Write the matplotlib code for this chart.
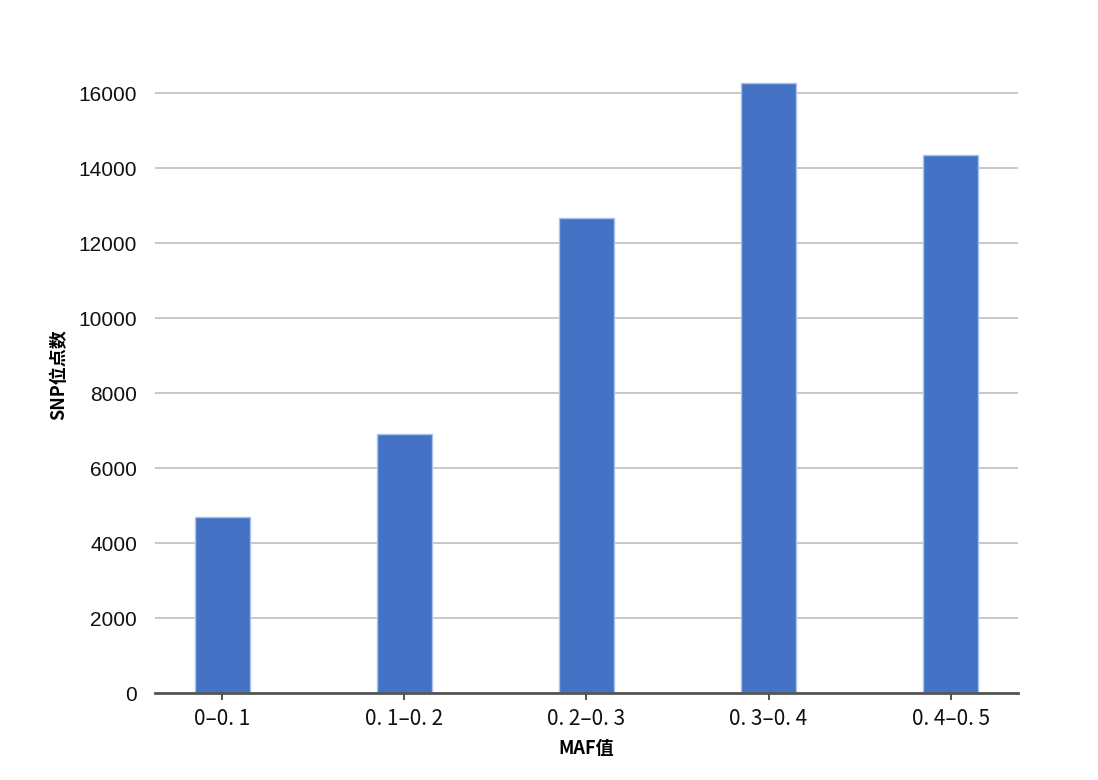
import matplotlib.pyplot as plt
import numpy as np

# data
categories = ['0-0.1', '0.1-0.2', '0.2-0.3', '0.3-0.4', '0.4-0.5']
snp_counts = [4700, 6910, 12670, 16280, 14350]
y_ticks = [0, 2000, 4000, 6000, 8000, 10000, 12000, 14000, 16000]

cjk = ['Noto Sans CJK SC', 'DejaVu Sans']
plt.rcParams['font.family'] = ['Liberation Sans', 'Noto Sans CJK SC', 'DejaVu Sans']

fig = plt.figure(figsize=(10.98, 7.8), dpi=100)
ax = fig.add_axes([0.1412, 0.1115, 0.7859, 0.8173])

x = np.arange(len(categories))
ax.bar(x, snp_counts, width=0.3, color='#4472C4', edgecolor='#A9C4EE',
       linewidth=1.0, zorder=3)

ax.set_xlim(-0.37, 4.37)
ax.set_ylim(0, 17000)
ax.set_yticks(y_ticks)
ax.set_yticklabels([str(v) for v in y_ticks], fontsize=15, color='#111111')
ax.set_xticks(x)
ax.set_xticklabels([c.replace('.', '. ').replace('-', '–') for c in categories],
                   fontsize=15, family=cjk, fontweight='medium', color='#111111')

ax.yaxis.grid(True, color='#C4C4C4', linewidth=1.3, zorder=0)
ax.tick_params(axis='y', length=0, pad=13)
ax.tick_params(axis='x', length=5, width=1.2, color='#333333', pad=6)

for side in ['top', 'right', 'left']:
    ax.spines[side].set_visible(False)
ax.spines['bottom'].set_color('#555555')
ax.spines['bottom'].set_linewidth(2)
ax.spines['bottom'].set_zorder(4)

ax.set_xlabel('MAF值', fontsize=13, family=cjk, fontweight='bold', labelpad=6)
ax.set_ylabel('SNP位点数', fontsize=13, family=cjk, fontweight='bold', labelpad=7)

fig.savefig('out.png', dpi=100, facecolor='white')
